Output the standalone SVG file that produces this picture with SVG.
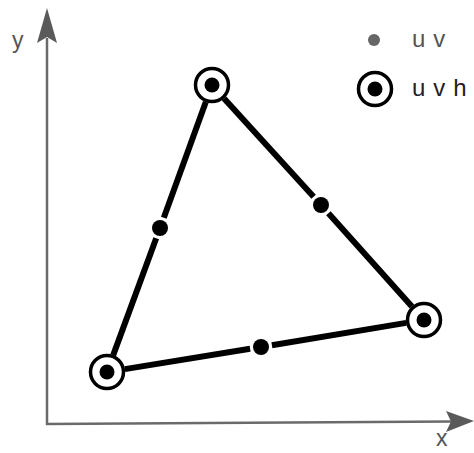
<svg xmlns="http://www.w3.org/2000/svg" width="474" height="453" viewBox="0 0 474 453">
<defs>
<style>
.axis{stroke:#6a6a6a;stroke-width:2.5;fill:none}
.arrowhead{fill:#5a5a5a}
.edge{stroke:#000;stroke-width:6;stroke-linecap:butt;fill:none}
.ring{fill:#fff;stroke:#000;stroke-width:3.5}
.dot{fill:#000}
.lbl{font-family:"Liberation Sans",Arial,sans-serif;font-size:23px;fill:#555}
.leg{font-family:"Liberation Sans",Arial,sans-serif;font-size:24px;letter-spacing:8px}
</style>
</defs>
<rect width="474" height="453" fill="#fff"/>
<g id="axes">
<line class="axis" x1="47" y1="425" x2="47" y2="38"/>
<polygon class="arrowhead" points="47,8 37,43 47,37 57,43"/>
<line class="axis" x1="46" y1="424" x2="452" y2="421.5"/>
<polygon class="arrowhead" points="474,421 446,411 451,421.5 446,432"/>
<text class="lbl" x="12" y="48">y</text>
<text class="lbl" x="436" y="446">x</text>
</g>
<g id="connectors">
<line class="edge" x1="205.8" y1="101.9" x2="163.8" y2="217.7"/>
<line class="edge" x1="156.2" y1="238.3" x2="113.2" y2="355.1"/>
<line class="edge" x1="224.1" y1="98.4" x2="313.6" y2="196.8"/>
<line class="edge" x1="328.4" y1="213.2" x2="411.9" y2="306.6"/>
<line class="edge" x1="124.8" y1="369.1" x2="250.1" y2="348.8"/>
<line class="edge" x1="271.9" y1="345.2" x2="406.2" y2="322.9"/>
</g>
<g id="node-top"><circle class="ring" cx="212" cy="85" r="16.5"/><circle class="dot" cx="212" cy="85" r="7.5"/></g>
<g id="node-right"><circle class="ring" cx="424" cy="320" r="16.5"/><circle class="dot" cx="424" cy="320" r="7.5"/></g>
<g id="node-left"><circle class="ring" cx="107" cy="372" r="16.5"/><circle class="dot" cx="107" cy="372" r="7.5"/></g>
<g id="mid-left"><circle class="dot" cx="160" cy="228" r="8"/></g>
<g id="mid-right"><circle class="dot" cx="321" cy="205" r="8"/></g>
<g id="mid-bottom"><circle class="dot" cx="261" cy="347" r="8"/></g>
<g id="legend">
<circle cx="374" cy="40" r="6" fill="#666"/>
<text class="leg" x="412" y="47" fill="#555">uv</text>
<circle class="ring" cx="375" cy="89" r="16.5"/><circle class="dot" cx="375" cy="89" r="7.5"/>
<text class="leg" x="412" y="96" fill="#222">uvh</text>
</g>
</svg>
